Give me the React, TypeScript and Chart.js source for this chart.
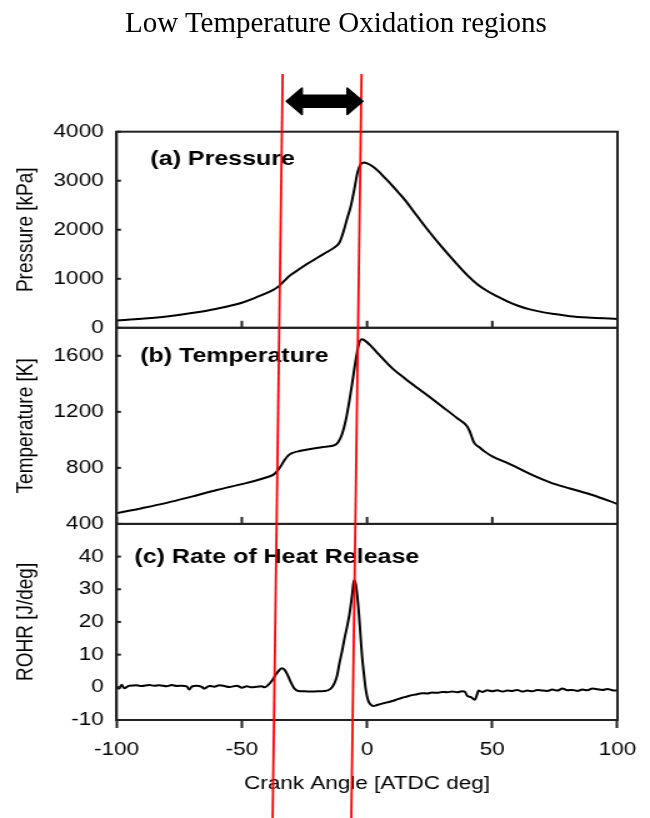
import React, { useEffect, useRef } from "react";
import { Chart, registerables } from "chart.js";

Chart.register(...registerables);

// ---------- data ----------
const angleTicks = [-100, -50, 0, 50, 100];
const pressureTicks = [0, 1000, 2000, 3000, 4000];
const temperatureTicks = [400, 800, 1200, 1600];
const rohrTicks = [-10, 0, 10, 20, 30, 40];

const pressureAngle = [
  -100, -90, -80, -70, -60, -50, -45, -40, -37, -35,
  -33, -31, -28, -24, -20, -16, -13, -11, -9.5, -8,
  -6.5, -5, -3.8, -2.6, -1.3, 0, 2, 4.6, 7, 9.8,
  12.5, 15, 20, 25, 30, 35, 40, 44, 48, 52,
  56, 60, 65, 70, 75, 81, 90, 100,
];
const pressureKPa = [
  150, 185, 230, 300, 390, 510, 605, 710, 785, 860,
  960, 1060, 1165, 1300, 1425, 1545, 1640, 1740, 1950, 2220,
  2480, 2850, 3170, 3330, 3372, 3355, 3300, 3190, 3065, 2915,
  2760, 2615, 2280, 1950, 1640, 1350, 1075, 890, 750, 640,
  540, 455, 375, 320, 280, 237, 205, 180,
];

const temperatureAngle = [
  -100, -90, -80, -70, -60, -50, -45, -40, -37.5, -36,
  -34.6, -33, -31.5, -30, -27, -22, -17, -13, -11.5, -10,
  -8.5, -7.2, -5.9, -4.6, -3.4, -2.2, -1, 2, 4.6, 9.8,
  15, 20, 25.4, 30.7, 35.9, 40, 41, 42.8, 45, 47,
  50, 55, 59, 65, 73, 81, 90, 100,
];
const temperatureK = [
  477, 512, 550, 595, 642, 684, 706, 733, 750, 775,
  808, 855, 888, 905, 920, 936, 950, 962, 985, 1040,
  1140, 1264, 1408, 1560, 1675, 1718, 1710, 1662, 1612, 1516,
  1440, 1372, 1300, 1228, 1156, 1095, 1060, 978, 945, 916,
  882, 842, 810, 757, 697, 653, 606, 542,
];

const rohrAngle = [
  -100, -99, -98, -97, -95, -92, -90, -87, -85, -83,
  -80, -78, -76, -74, -72, -71, -70, -68, -66, -65,
  -63, -61, -59, -57, -55, -52, -50, -48, -46, -44,
  -42, -41, -39.5, -38, -36.5, -35, -34, -33, -32, -31,
  -30, -29, -27.5, -25, -22, -19, -16, -14.5, -13, -12,
  -11, -10, -9, -8, -7, -6, -5.2, -4.5, -3.9, -3.2,
  -2.6, -2, -1.3, -0.5, 0.5, 1.5, 2.5, 4, 6, 8,
  10, 12, 14, 16, 18, 20, 22, 24, 26, 28,
  30, 32, 34, 36, 38, 39, 40, 41.5, 43, 44,
  44.5, 46, 48, 50, 52, 54, 56, 58, 60, 62,
  64, 66, 68, 70, 72, 74, 76, 78, 80, 82,
  84, 86, 88, 90, 92, 94, 96, 98, 100,
];
const rohrJPerDeg = [
  0.2, -0.4, 0.8, -0.3, 0.5, 0.6, 0.4, 0.7, 0.5, 0.6,
  0.3, 0.7, 0.4, 0.5, 0.3, -0.7, 0.2, 0.5, 0.1, -0.4,
  0.4, 0.2, 0.6, 0.4, 0.1, 0.5, -0.1, 0.3, 0.0, 0.2,
  0.3, 0.0, 0.7, 2.0, 3.8, 5.3, 5.8, 5.4, 4.2, 2.5,
  0.9, -0.4, -1.1, -1.2, -1.3, -1.2, -1.0, -0.4, 1.3, 3.5,
  7.5, 11, 15, 18.5, 22.5, 28, 32.8, 31.5, 28, 22,
  15.7, 9.5, 4.4, -0.8, -4.2, -5.3, -5.7, -5.4, -5.0, -4.6,
  -4.2, -3.7, -3.2, -2.8, -2.4, -2.1, -1.8, -1.9, -1.6, -1.7,
  -1.4, -1.5, -1.3, -1.5, -1.2, -1.3, -2.6, -3.0, -3.8, -2.0,
  -1.0, -1.4, -0.9, -1.2, -0.9, -1.3, -1.0, -1.1, -0.8, -1.3,
  -1.0, -1.2, -0.8, -1.0, -1.1, -0.7, -1.0, -0.4, -0.9, -0.8,
  -1.1, -0.7, -0.9, -0.4, -0.6, -0.8, -0.5, -0.9, -1.0,
];

// crank angles of the two red LTO-boundary lines (at their upper and lower ends)
const ltoLineTopAngle = [-33.7, -2.2];
const ltoLineBottomAngle = [-37.7, -6.3];
// crank angles of the double arrow tips
const ltoArrowAngle = [-32.2, -1.7];

// ---------- styling ----------
const SANS = '"Liberation Sans", Arial, Helvetica, sans-serif';
const FRAME = "#222";
const TEXT = "#000";
const STRETCH = 1.25; // the reference plot is stretched horizontally
const CANVAS_W = 520;
const CANVAS_H = 818;

const panelTicks: Record<string, number[]> = {
  yP: pressureTicks,
  yT: temperatureTicks,
  yR: rohrTicks,
};

const overlayPlugin = {
  id: "overlay",
  afterDraw(chart: any) {
    const ctx = chart.ctx as CanvasRenderingContext2D;
    const x = chart.scales.x;
    const area = chart.chartArea;
    ctx.save();

    // panel frames
    ctx.strokeStyle = FRAME;
    ctx.lineWidth = 2;
    for (const id of ["yP", "yT", "yR"]) {
      const s = chart.scales[id];
      ctx.strokeRect(area.left, s.top, area.right - area.left, s.bottom - s.top);
      // inward y ticks
      for (const v of panelTicks[id]) {
        const py = s.getPixelForValue(v);
        ctx.beginPath();
        ctx.moveTo(area.left, py);
        ctx.lineTo(area.left + 3.5, py);
        ctx.stroke();
      }
    }
    // inward x ticks at the bottom of panels (a) and (b)
    for (const id of ["yP", "yT"]) {
      const s = chart.scales[id];
      for (const v of angleTicks) {
        const px = x.getPixelForValue(v);
        ctx.beginPath();
        ctx.moveTo(px, s.bottom);
        ctx.lineTo(px, s.bottom - 7);
        ctx.stroke();
      }
    }

    // panel labels
    const labels = [
      { id: "yP", text: "(a) Pressure", a: -86.5, v: 3428 },
      { id: "yT", text: "(b) Temperature", a: -90.6, v: 1594 },
      { id: "yR", text: "(c) Rate of Heat Release", a: -92.9, v: 39.6 },
    ];
    ctx.fillStyle = TEXT;
    ctx.font = `bold 20px ${SANS}`;
    ctx.textAlign = "left";
    ctx.textBaseline = "middle";
    for (const l of labels) {
      ctx.fillText(l.text, x.getPixelForValue(l.a), chart.scales[l.id].getPixelForValue(l.v));
    }

    // red boundary lines
    const yTop = area.top - 57.7;
    const yBot = chart.height;
    ctx.strokeStyle = "#ff0000";
    ctx.lineWidth = 1.8;
    for (let i = 0; i < ltoLineTopAngle.length; i++) {
      ctx.beginPath();
      ctx.moveTo(x.getPixelForValue(ltoLineTopAngle[i]), yTop);
      ctx.lineTo(x.getPixelForValue(ltoLineBottomAngle[i]), yBot);
      ctx.stroke();
    }

    // double-headed arrow
    const xl = x.getPixelForValue(ltoArrowAngle[0]);
    const xr = x.getPixelForValue(ltoArrowAngle[1]);
    const yc = area.top - 30.5;
    const head = 12.5;
    const hh = 13.2;
    const sh = 6;
    ctx.fillStyle = "#000";
    ctx.strokeStyle = "#000";
    ctx.lineWidth = 1.5;
    ctx.lineJoin = "round";
    ctx.beginPath();
    ctx.moveTo(xl, yc);
    ctx.lineTo(xl + head, yc - hh);
    ctx.lineTo(xl + head, yc - sh);
    ctx.lineTo(xr - head, yc - sh);
    ctx.lineTo(xr - head, yc - hh);
    ctx.lineTo(xr, yc);
    ctx.lineTo(xr - head, yc + hh);
    ctx.lineTo(xr - head, yc + sh);
    ctx.lineTo(xl + head, yc + sh);
    ctx.lineTo(xl + head, yc + hh);
    ctx.closePath();
    ctx.fill();
    ctx.stroke();

    ctx.restore();
  },
};

function yAxis(ticks: number[], min: number, max: number, title: string) {
  return {
    type: "linear" as const,
    position: "left" as const,
    stack: "panels",
    stackWeight: 1,
    min,
    max,
    afterBuildTicks: (s: any) => {
      s.ticks = ticks.map((v) => ({ value: v }));
    },
    afterFit: (s: any) => {
      s.width = 93.3;
    },
    ticks: {
      padding: 10.4,
      color: TEXT,
      autoSkip: false,
      font: { family: SANS, size: 18 },
      callback: (v: any) => String(v),
    },
    grid: {
      display: false,
      drawOnChartArea: false,
      drawTicks: false,
    },
    border: { display: true, color: FRAME, width: 2 },
    title: {
      display: true,
      text: title,
      color: TEXT,
      font: { family: SANS, size: 19 },
      padding: { top: 9, bottom: 0 },
    },
  };
}

export default function App() {
  const ref = useRef<HTMLCanvasElement | null>(null);

  useEffect(() => {
    if (!ref.current) return;
    const line = (xs: number[], ys: number[], axis: string) => ({
      data: xs.map((a, i) => ({ x: a, y: ys[i] })),
      yAxisID: axis,
      borderColor: "#000",
      borderWidth: 2,
      pointRadius: 0,
      fill: false,
      cubicInterpolationMode: "monotone" as const,
    });
    const chart = new Chart(ref.current, {
      type: "line",
      data: {
        datasets: [
          line(rohrAngle, rohrJPerDeg, "yR"),
          line(temperatureAngle, temperatureK, "yT"),
          line(pressureAngle, pressureKPa, "yP"),
        ],
      },
      options: {
        responsive: false,
        animation: false,
        devicePixelRatio: 1,
        layout: { padding: { top: 131.7, right: 17.6, bottom: 0, left: 0 } },
        plugins: {
          legend: { display: false },
          tooltip: { enabled: false },
          title: { display: false },
        },
        scales: {
          x: {
            type: "linear",
            min: -100,
            max: 100,
            afterBuildTicks: (s: any) => {
              s.ticks = angleTicks.map((v) => ({ value: v }));
            },
            afterFit: (s: any) => {
              s.height = 98;
            },
            ticks: {
              padding: 11,
              color: TEXT,
              font: { family: SANS, size: 18 },
              maxRotation: 0,
              autoSkip: false,
              callback: (v: any) => String(v),
            },
            grid: {
              display: true,
              drawOnChartArea: false,
              drawTicks: true,
              tickLength: 8,
              tickWidth: 2,
              tickColor: FRAME,
            },
            border: { display: true, color: FRAME, width: 2 },
            title: {
              display: true,
              text: "Crank Angle [ATDC deg]",
              color: TEXT,
              font: { family: SANS, size: 18 },
              padding: { top: 0, bottom: 23 },
            },
          },
          yR: yAxis(rohrTicks, -10, 50, "ROHR [J/deg]"),
          yT: yAxis(temperatureTicks, 400, 1800, "Temperature [K]"),
          yP: yAxis(pressureTicks, 0, 4000, "Pressure [kPa]"),
        } as any,
      },
      plugins: [overlayPlugin],
    });
    return () => chart.destroy();
  }, []);

  return (
    <div
      style={{
        position: "absolute",
        left: 0,
        top: 0,
        width: 650,
        height: 818,
        background: "#fff",
        overflow: "hidden",
      }}
    >
      <div
        style={{
          position: "absolute",
          left: 0,
          top: 0,
          width: CANVAS_W,
          height: CANVAS_H,
          transform: `scaleX(${STRETCH})`,
          transformOrigin: "0 0",
        }}
      >
        <canvas ref={ref} width={CANVAS_W} height={CANVAS_H} style={{ display: "block" }} />
      </div>
      <div
        style={{
          position: "absolute",
          left: 125,
          top: 8,
          fontFamily: '"Liberation Serif", "Times New Roman", serif',
          fontSize: 29,
          lineHeight: "29px",
          whiteSpace: "nowrap",
          color: "#000",
        }}
      >
        Low Temperature Oxidation regions
      </div>
    </div>
  );
}
